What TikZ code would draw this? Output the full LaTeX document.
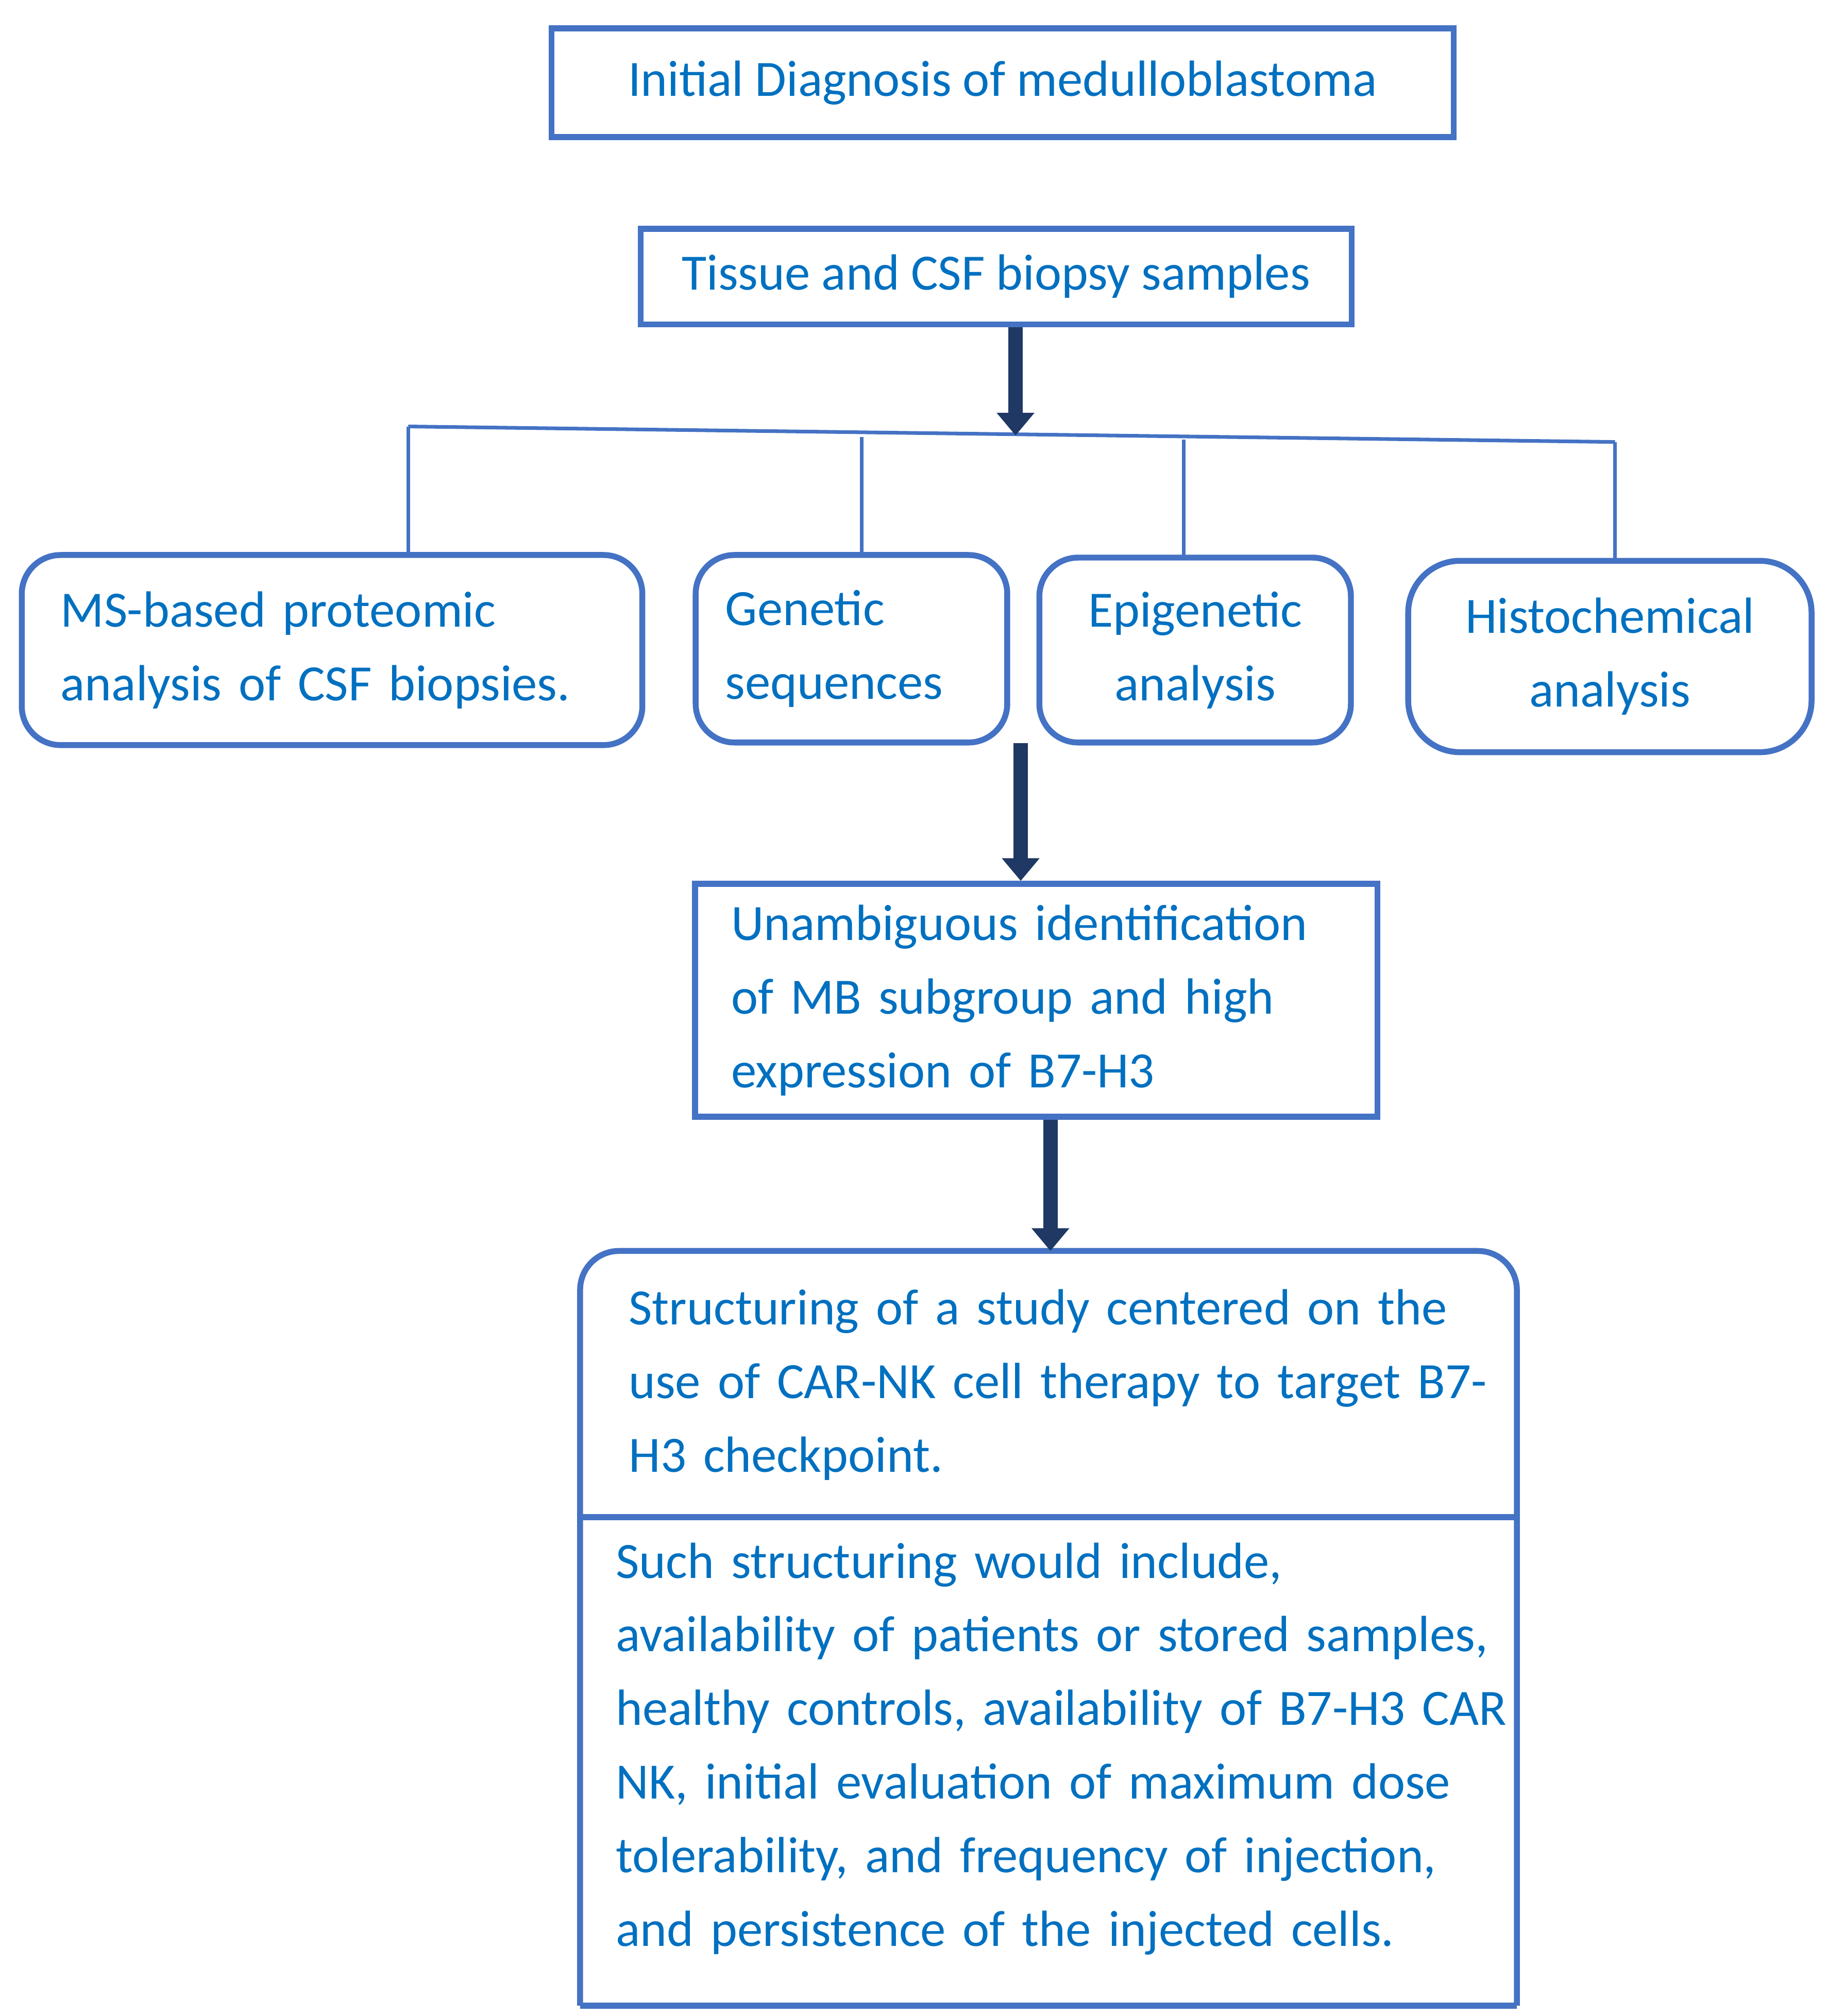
\documentclass[tikz,border=0pt]{standalone}
\usepackage{fontspec}
\setmainfont{Carlito}
\usetikzlibrary{arrows.meta}
\definecolor{boxline}{HTML}{4472C4}
\definecolor{boxtext}{HTML}{0070C0}
\definecolor{arrowdark}{HTML}{1F3864}
\newcommand{\jline}[1]{\makebox[6.72cm][s]{#1}}
\begin{document}
\begin{tikzpicture}[x=0.01cm,y=-0.01cm,
    box/.style={draw=boxline, line width=1.3pt, text=boxtext, inner sep=0pt, font=\fontsize{11.2}{16.2}\selectfont},
    rbox/.style={box, rounded corners=0.3cm},
    thick arrow/.style={draw=arrowdark, line width=3.2pt, -{Triangle[length=5pt,width=8pt]}},
    branch/.style={draw=boxline, line width=0.8pt}]
    % background
    \useasboundingbox (0,0) rectangle (1414,1560);

    % top boxes
    \node[box, minimum width=6.98cm, minimum height=0.84cm] (diag) at (776,64) {Initial Diagnosis of medulloblastoma};
    \node[box, minimum width=5.5cm, minimum height=0.74cm] (tissue) at (771,214) {Tissue and CSF biopsy samples};

    % branch line
    \coordinate (bl) at (316,330);
    \coordinate (br) at (1250,342);
    \coordinate (bm) at (786,337);
    \draw[branch] (bl) -- (br);
    \draw[thick arrow] (tissue.south -| bm) -- (bm);

    % analysis boxes
    \node[rbox, minimum width=4.8cm, minimum height=1.47cm, align=left, text width=4.2cm] (ms) at (257,503) {MS-based proteomic\\analysis of CSF biopsies.};
    \node[rbox, minimum width=2.41cm, minimum height=1.45cm, align=left, text width=1.95cm] (gen) at (659,502) {Genetic\\sequences};
    \node[rbox, minimum width=2.41cm, minimum height=1.43cm, align=center] (epi) at (925,503) {Epigenetic\\analysis};
    \node[rbox, minimum width=3.12cm, minimum height=1.48cm, align=center, rounded corners=0.4cm] (histo) at (1246,508) {Histochemical\\analysis};
    \draw[branch] (bl) -- (bl |- ms.north);
    \draw[branch] (667,338) -- (667,428);
    \draw[branch] (916,340) -- (916,432);
    \draw[branch] (br) -- (br |- histo.north);

    % identification
    \node[box, minimum width=5.28cm, minimum height=1.8cm, align=left, text width=4.72cm] (ident) at (802,774) {Unambiguous identification\\of MB subgroup and high\\expression of B7-H3};
    \draw[thick arrow] (790,575) -- (ident.north -| 790,0);

    % study box
    \node[text=boxtext, font=\fontsize{11.2}{16.2}\selectfont, align=left, text width=6.8cm, anchor=north west, inner sep=0pt] (study) at (486,997) {Structuring of a study centered on the\\use of CAR-NK cell therapy to target B7-\\H3 checkpoint.};
    \node[text=boxtext, font=\fontsize{11.2}{16.2}\selectfont, align=left, text width=6.72cm, anchor=north west, inner sep=0pt] (detail) at (476,1193) {\jline{Such structuring would include,}\\\jline{availability of patients or stored samples,}\\\jline{healthy controls, availability of B7-H3 CAR}\\\jline{NK, initial evaluation of maximum dose}\\\jline{tolerability, and frequency of injection,}\\and persistence of the injected cells.};
    \draw[boxline, line width=1.3pt, rounded corners=0.3cm] (449,1552) -- (449,968) -- (1174,968) -- (1174,1552);
    \draw[boxline, line width=1.3pt] (449,1552) -- (1174,1552);
    \draw[boxline, line width=1.3pt] (449,1174) -- (1174,1174);
    \coordinate (stop) at (813,968);
    \draw[thick arrow] (ident.south -| stop) -- (stop);
\end{tikzpicture}
\end{document}
